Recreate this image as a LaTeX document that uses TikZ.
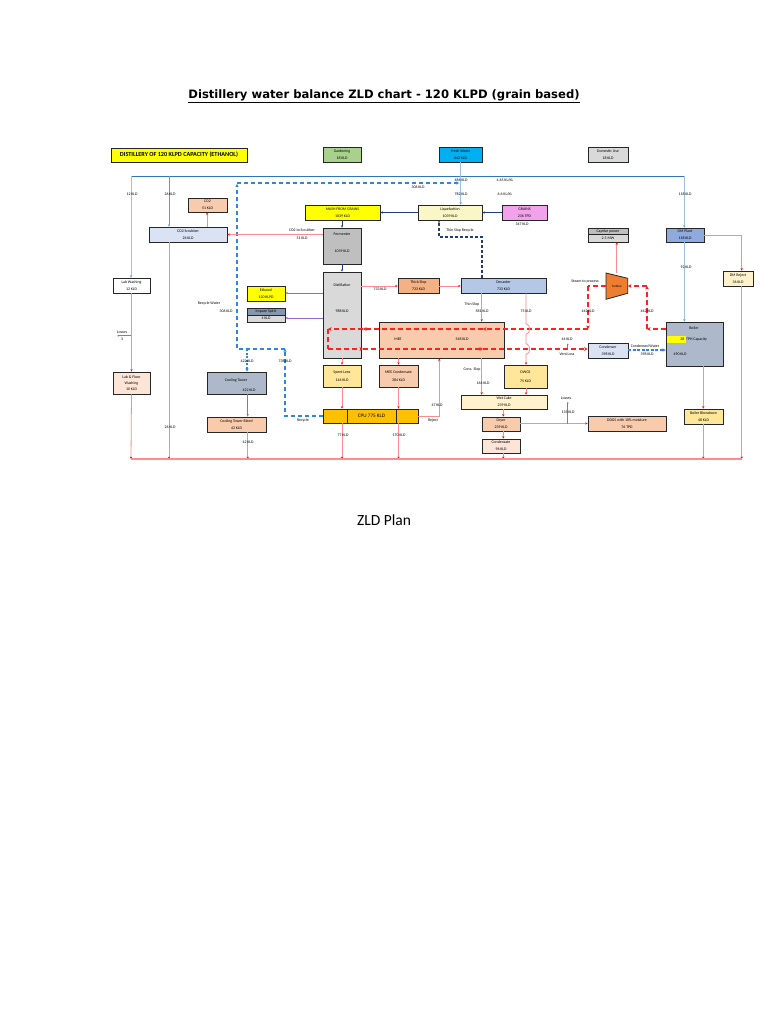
\documentclass[tikz,border=0pt]{standalone}
\usepackage{fontspec}
\setmainfont{Carlito}
\newfontfamily\titlef{DejaVu Sans}
\usetikzlibrary{arrows.meta,calc}
\definecolor{yel}{HTML}{FFFF00}
\definecolor{grn}{HTML}{A9D18E}
\definecolor{cyn}{HTML}{00B0F0}
\definecolor{grl}{HTML}{D9D9D9}
\definecolor{grm}{HTML}{BFBFBF}
\definecolor{sal}{HTML}{F8CBAD}
\definecolor{lav}{HTML}{DAE3F3}
\definecolor{liqc}{HTML}{FAF7C6}
\definecolor{pnk}{HTML}{F2A2EA}
\definecolor{dmb}{HTML}{8FAADC}
\definecolor{decc}{HTML}{B4C7E7}
\definecolor{thk}{HTML}{F4B183}
\definecolor{blr}{HTML}{ADB9CA}
\definecolor{lyel}{HTML}{FFF2CC}
\definecolor{yel2}{HTML}{FFE699}
\definecolor{pch}{HTML}{FCE4D6}
\definecolor{cpuc}{HTML}{FFC000}
\definecolor{imp}{HTML}{8497B0}
\definecolor{trb}{HTML}{ED7D31}
\definecolor{effc}{HTML}{FF8C8C}
\definecolor{watc}{HTML}{5B9BD5}
\definecolor{watl}{HTML}{9DC3E6}
\definecolor{topc}{HTML}{2E75B6}
\definecolor{navyc}{HTML}{203C7C}
\definecolor{recc}{HTML}{2E86DE}
\definecolor{purc}{HTML}{9966CC}
\definecolor{stm}{HTML}{FF2020}
\newcommand{\tf}{\fontsize{3.9}{7}\selectfont}
\newcommand{\mkbox}[7]{\node[box, fill=#6, minimum width={#4-#2}, minimum height={#5-#3}] (#1) at ({(#2+#4)/2},{(#3+#5)/2}) {#7};}
\begin{document}
\begin{tikzpicture}[x=1pt,y=-1pt,
  box/.style={draw=black!85, line width=0.8pt, inner sep=0pt, align=center, font=\tf},
  lbl/.style={inner sep=0pt, font=\tf, align=center},
  eff/.style={draw=effc, line width=0.8pt, -{Stealth[length=2.4pt,width=2.2pt,color=red]}},
  effn/.style={draw=effc, line width=1.2pt},
  wat/.style={draw=watc, line width=0.8pt, -{Stealth[length=2.4pt,width=2.2pt]}},
  watlt/.style={draw=watl, line width=0.9pt, -{Stealth[length=2.4pt,width=2.2pt,color=watc]}},
  navy/.style={draw=navyc, line width=0.9pt, -{Stealth[length=2.4pt,width=2.2pt]}},
  steam/.style={draw=stm, line width=1.8pt, dash pattern=on 5pt off 3pt, -{Stealth[length=3.5pt,width=3.8pt,color=stm]}},
  recyc/.style={draw=recc, line width=1.5pt, dash pattern=on 4pt off 3pt, -{Stealth[length=3.2pt,width=3.4pt]}},
  pur/.style={draw=purc, line width=0.8pt},
  dotp/.style={circle, fill=purc, inner sep=0pt, minimum size=1.8pt}
]
\useasboundingbox[fill=white] (0,0) rectangle (768,1024);

% title
\node[inner sep=0pt, font=\titlef\fontsize{11.6}{13}\selectfont\bfseries] (title) at (384,96) {\underline{Distillery water balance ZLD chart - 120 KLPD (grain based)}};
\node[inner sep=0pt, font=\fontsize{15.5}{17}\selectfont] (plan) at (384,520) {ZLD Plan};

% boxes
\mkbox{dist}{111}{148}{247}{162}{yel}{\fontsize{6.2}{7}\selectfont\bfseries DISTILLERY OF 120 KLPD CAPACITY (ETHANOL)}
\mkbox{garden}{323}{147}{361}{162}{grn}{Gardening\\18 KLD}
\mkbox{fresh}{439}{147}{482}{162}{cyn}{Fresh Water\\642 KLD}
\mkbox{domestic}{588}{147}{628}{162}{grl}{Domestic Use\\18 KLD}
\mkbox{co2}{188}{198}{227}{212}{sal}{CO2\\51 KLD}
\mkbox{scrub}{149}{227}{227}{242}{lav}{CO2 Scrubber\\26 KLD}
\mkbox{mash}{305}{205}{380}{220}{yel}{MASH FROM GRAINS\\1039 KLD}
\mkbox{liq}{418}{205}{482}{220}{liqc}{Liquefaction\\1039 KLD}
\mkbox{grains}{502}{205}{547}{220}{pnk}{GRAINS\\236 TPD}
\mkbox{captop}{588}{228}{628}{234.5}{grm}{Captive power}
\mkbox{capbot}{588}{234.5}{628}{242}{grl}{2.5 MW}
\mkbox{dm}{666}{228}{704}{242}{dmb}{DM Plant\\118 KLD}
\mkbox{ferm}{323}{228}{361}{264}{grm}{}
\node[lbl] (fermt) at (342,234) {Fermenter};
\node[lbl] (fermv) at (342,251) {1039 KLD};
\mkbox{lab}{113}{278}{150}{293}{white}{Lab Washing\\12 KLD}
\mkbox{ethanol}{247}{286}{285}{301}{yel}{Ethanol\\120 KLPD}
\mkbox{imptop}{247}{308}{285}{315}{imp}{Impure Spirit}
\mkbox{impbot}{247}{315}{285}{322}{grl}{4 KLD}
\mkbox{distl}{323}{272}{361}{358}{grl}{}
\node[lbl] (distlt) at (342,285) {Distillation};
\node[lbl] (distlv) at (342,311.5) {988 KLD};
\mkbox{thick}{398}{278}{439}{293}{thk}{Thick Slop\\733 KLD}
\mkbox{dec}{461}{278}{546}{293}{decc}{Decanter\\733 KLD}
\mkbox{dmrej}{723}{271}{753}{286}{lyel}{DM Reject\\36 KLD}
\mkbox{mee}{379}{322}{504}{358}{sal}{}
\node[lbl] (meet) at (398,339) {MEE};
\node[lbl] (meev) at (462,339) {548 KLD};
\mkbox{cond}{588}{343}{628}{358}{lav}{Condenser\\398 KLD}
\mkbox{boiler}{666}{322}{723}{366}{blr}{}
\node[lbl] (boilt) at (694,328.5) {Boiler};
\node[fill=yel, minimum width=19pt, minimum height=7pt, inner sep=0pt, anchor=north west] (cap) at (666.4,336) {};
\node[lbl, anchor=east] (capn) at (684.5,339.5) {28};
\node[lbl, anchor=west] (capt) at (686,339.5) {TPH Capacity};
\node[lbl] (boilv) at (680,354) {490 KLD};
\mkbox{spent}{323}{365}{361}{387}{yel2}{Spent Lees\\[1.5pt]144 KLD}
\mkbox{meec}{379}{365}{418}{387}{sal}{MEE Condensate\\[1.5pt]384 KLD}
\mkbox{dwgs}{504}{365}{547}{388}{yel2}{DWGS\\[1.5pt]75 KLD}
\mkbox{labfloor}{113}{372}{150}{394}{pch}{Lab \& Floor\\[-1pt]Washing\\[-1pt]10 KLD}
\mkbox{ct}{207}{372}{266}{394}{blr}{}
\node[lbl] (ctt) at (236,380) {Cooling Tower};
\node[lbl] (ctv) at (249,390.5) {422 KLD};
\mkbox{wetcake}{461}{395}{547}{409}{lyel}{Wet Cake\\239 KLD}
\mkbox{cpu}{323}{409}{418}{423}{cpuc}{}
\node[box, fill=cpuc, minimum width=49pt, minimum height=14pt, font=\fontsize{5.2}{6}\selectfont] (cpuin) at (371.5,416) {CPU 775 KLD};
\mkbox{ctb}{207}{417}{266}{432}{sal}{Cooling Tower Bleed\\42 KLD}
\mkbox{dryer}{482}{417}{520}{431}{sal}{Dryer\\239 KLD}
\mkbox{ddgs}{588}{416}{666}{431}{sal}{DDGS with 10\% moisture\\76 TPD}
\mkbox{bb}{684}{409}{723}{424}{yel2}{Boiler Blowdown\\48 KLD}
\mkbox{conds}{482}{439}{520}{453}{pch}{Condensate\\96 KLD}

% turbine
\draw[fill=trb, draw=black!85, line width=0.8pt] (606,273) -- (627.7,278.3) -- (627.7,293.3) -- (606,299.3) -- cycle;
\node[lbl, font=\fontsize{3.2}{4}\selectfont, minimum width=21.7pt, minimum height=26pt] (turb) at (616.8,286) {Turbine};

% helper coordinates
\coordinate (bl) at (131,459);
\coordinate (br) at (741.7,459);
\coordinate (tl) at (131,176.5);
\coordinate (tr) at (684.3,176.5);
\coordinate (sa) at (588,286);
\coordinate (sb) at (588,329);
\coordinate (t1) at (483,329);
\coordinate (t2) at (363,329);
\coordinate (sc) at (328,329);
\coordinate (sd) at (328,349);
\coordinate (b1) at (363,349);
\coordinate (b2) at (483,349);
\coordinate (ra) at (647,329);
\coordinate (rb) at (647,286);

% fresh water distribution
\draw[draw=topc, line width=1.6pt] (tl) -- (tr);
\draw[watlt] (tl) -- (lab.north -| tl);
\draw[wat] (169,176.5) -- (scrub.north -| 169,0);
\draw[watlt] (fresh.south -| 460.7,0) -- (liq.north -| 460.7,0);
\draw[watlt] (tr) -- (dm.north -| tr);
\draw[watlt] (dm.south -| tr) -- (boiler.north -| tr);

% navy process arrows
\draw[navy] (liq.west) -- (mash.east);
\draw[navy] (grains.west) -- (liq.east);
\draw[navy] (ferm.north |- mash.south) -- (ferm.north);
\draw[navy] (ferm.south) -- (distl.north);
\draw[navy, dash pattern=on 3pt off 2pt, line width=1.2pt] (dec.north -| 482,0) -- (482,237) -- (439,237) -- (liq.south -| 439,0);

% recycle water (dashed blue)
\draw[recyc] (cpu.west) -- (285,416) -- (285,349);
\draw[recyc] (285,349) -- (237,349) -- (237,184);
\draw[recyc] (237,183) -- (459,183);
\draw[recyc, dash pattern=on 2pt off 1.5pt, line width=1.1pt] (247,349) -- (ct.north -| 247,0);

% effluent lines
\draw[eff] (scrub.north -| 207,0) -- (co2.south -| 207,0);
\draw[eff] (ferm.west |- 0,234.5) -- (scrub.east |- 0,234.5);
\draw[eff] (scrub.south -| 169,0) -- (169,459);
\draw[eff] (lab.south) -- (labfloor.north);
\draw[eff] (labfloor.south) -- (bl);
\draw[draw=gray, line width=0.8pt, -{Stealth[length=2.4pt,width=2.2pt]}] (ct.south -| 247.7,0) -- (ctb.north -| 247.7,0);
\draw[eff] (ctb.south -| 247.7,0) -- (247.7,459);
\draw[eff] (distl.east |- 0,286) -- (thick.west |- 0,286);
\draw[eff] (thick.east |- 0,286) -- (dec.west |- 0,286);
\draw[pur, -{Stealth[length=2.4pt,width=2.2pt]}] (distl.west |- 0,293) -- (ethanol.east |- 0,293);
\draw[pur, -{Stealth[length=2.4pt,width=2.2pt]}] (distl.west |- 0,318) -- (impbot.east |- 0,318);
\draw[eff] (distl.south) -- (spent.north);
\draw[eff] (spent.south) -- (spent.south |- cpu.north);
\draw[eff] (mee.south -| meec.north) -- (meec.north);
\draw[eff] (meec.south) -- (meec.south |- cpu.north);
\draw[eff] (cpu.east |- 0,416) -- (439.3,416) -- (mee.south -| 439.3,0);
\draw[eff] (spent.south |- cpu.south) -- (spent.south |- bl);
\draw[eff] (meec.south |- cpu.south) -- (meec.south |- bl);
\draw[eff] (dec.south -| 481.7,0) -- (mee.north -| 481.7,0);
\draw[eff] (mee.south -| 481.7,0) -- (wetcake.north -| 481.7,0);
\draw[eff] (dwgs.south -| 526,0) -- (wetcake.north -| 526,0);
\draw[eff] (wetcake.south -| 503.3,0) -- (dryer.north -| 503.3,0);
\draw[eff] (dryer.south -| 503.3,0) -- (conds.north -| 503.3,0);
\draw[eff] (conds.south -| 503.3,0) -- (503.3,459);
\draw[eff] (dryer.east |- 0,423.5) -- (ddgs.west |- 0,423.5);
\draw[eff] (boiler.south -| 703.3,0) -- (bb.north -| 703.3,0);
\draw[eff] (bb.south -| 703.3,0) -- (703.3,459);
\draw[eff] (dm.east |- 0,235.7) -- (741.7,235.7) -- (dmrej.north -| 741.7,0);
\draw[eff] (dmrej.south -| 741.7,0) -- (br);
\draw[eff] (turb.north) -- (capbot.south -| turb.north);
\draw[effn] (bl) -- (br);

% losses (purple)
\draw[pur] (131,335.7) -- (118.3,335.7) node[dotp] (lossdot1) {};
\draw[pur] (567.7,423.5) -- (567.7,403) node[dotp] (lossdot2) {};
\draw[pur] (567.7,349) -- (567.7,344.5) node[dotp] (lossdot3) {};

% steam (dashed red)
\draw[steam] (boiler.west |- ra) -- (ra);
\draw[steam] (ra) -- (rb);
\draw[steam] (rb) -- (turb.east |- rb);
\draw[steam, -] (turb.west |- sa) -- (sa);
\draw[steam] (sa) -- (sb);
\draw[steam] (sb) -- (t1);
\draw[steam] (t1) -- (t2);
\draw[steam] (t2) -- (sc);
\draw[steam, -] (sc) -- (sd);
\draw[steam] (sd) -- (b1);
\draw[steam] (b1) -- (b2);
\draw[steam] (b2) -- (cond.west |- b2);
\draw[recyc, dash pattern=on 3pt off 1.5pt, line width=1.1pt] (cond.east |- 0,350) -- (boiler.west |- 0,350);

% 75 KLD line with hops
\draw[eff] (dec.south -| 526,0) -- (526,323.5) .. controls (531,325) and (531,333) .. (526,334.5) -- (526,343.5) .. controls (531,345) and (531,353) .. (526,354.5) -- (dwgs.north -| 526,0);

% labels
\node[lbl] (l12) at (132,194) {12 KLD};
\node[lbl] (l26) at (170,194) {26 KLD};
\node[lbl] (l486) at (461,180) {486 KLD};
\node[lbl] (l782) at (461,194) {782 KLD};
\node[lbl] (l465) at (505,180) {4.65 KL/KL};
\node[lbl] (l66) at (505,194) {6.6 KL/KL};
\node[lbl] (l306a) at (418,187) {306 KLD};
\node[lbl] (l118) at (685,194) {118 KLD};
\node[lbl] (l347) at (522,224) {347 KLD};
\node[lbl] (ltsr) at (460,230) {Thin Slop Recycle};
\node[lbl] (lco2s) at (302,230) {CO2 to Scrubber};
\node[lbl] (l51) at (302,238) {51 KLD};
\node[lbl] (lrw) at (209,303) {Recycle Water};
\node[lbl] (l306) at (226,311) {306 KLD};
\node[lbl] (l422) at (247,361) {422 KLD};
\node[lbl] (l738) at (285,361) {738 KLD};
\node[lbl] (llos1) at (122,332) {Losses};
\node[lbl] (l3) at (122,339.5) {3};
\node[lbl] (l733) at (380,289.5) {733 KLD};
\node[lbl] (lts) at (472,304) {Thin Slop};
\node[lbl] (l581) at (482,311) {581 KLD};
\node[lbl] (l75) at (526,311) {75 KLD};
\node[lbl] (lstp) at (585,282) {Steam to process};
\node[lbl] (l442a) at (588,311) {442 KLD};
\node[lbl] (l442b) at (647,311) {442 KLD};
\node[lbl] (l92) at (686,267) {92 KLD};
\node[lbl] (l44) at (567,339) {44 KLD};
\node[lbl] (lvl) at (567,354) {Vent Loss};
\node[lbl] (lcw) at (645,346.5) {Condensed Water};
\node[lbl] (l398) at (647,354) {398 KLD};
\node[lbl] (lcs) at (472,369) {Conc. Slop};
\node[lbl] (l164) at (483,383) {164 KLD};
\node[lbl] (lrec) at (303,420) {Recycle};
\node[lbl] (lrej) at (433,420) {Reject};
\node[lbl] (l47) at (437,405) {47 KLD};
\node[lbl] (l77) at (343,435) {77 KLD};
\node[lbl] (l170) at (399,435) {170 KLD};
\node[lbl] (l26b) at (170,427) {26 KLD};
\node[lbl] (l42) at (248,442) {42 KLD};
\node[lbl] (llos2) at (566,398) {Losses};
\node[lbl] (l135) at (568,412) {135 KLD};
\end{tikzpicture}
\end{document}
